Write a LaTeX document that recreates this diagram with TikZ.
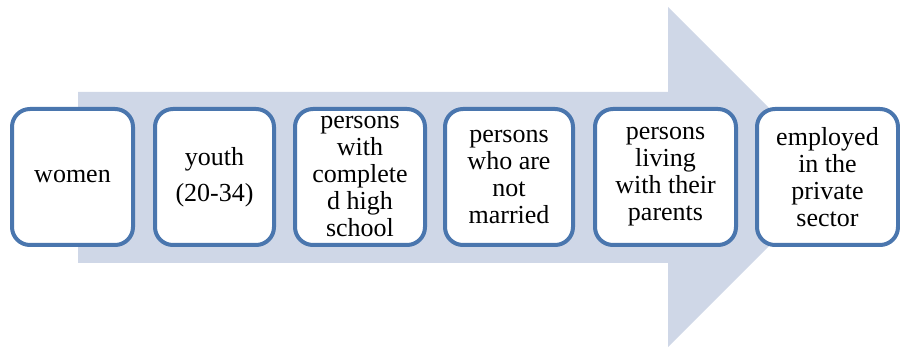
\documentclass[tikz,border=0pt]{standalone}
\usepackage{fontspec}
\setmainfont{Liberation Serif}
\definecolor{boxblue}{HTML}{4A76AE}
\definecolor{arrowgray}{HTML}{CFD7E7}
\tikzset{stage/.style={draw=boxblue, line width=4pt, rounded corners=18pt, fill=white,
    minimum height=136pt, inner sep=0pt, align=center,
    font=\rmfamily\fontsize{26}{27}\selectfont}}
\begin{document}
\begin{tikzpicture}[x=1pt,y=-1pt]
\def\bigarrow{(78,92) -- (668,92) -- (668,7) -- (838,177) -- (668,347) -- (668,263) -- (78,263) -- cycle}
\useasboundingbox (0,0) rectangle (900,347);

\fill[arrowgray] \bigarrow;

\node[stage, minimum width=121pt] (women) at (72.5,177) {women};
\node[stage, minimum width=119pt] (youth) at (214.5,177) {youth\\[9pt](20-34)};
\node[stage, minimum width=130pt] (school) at (360,177) {persons\\with\\complete\\d high\\school};
\node[stage, minimum width=128pt] (married) at (509,177) {persons\\who are\\not\\married};
\node[stage, minimum width=141pt] (parents) at (665.5,177) {persons\\living\\with their\\parents};
\node[stage, minimum width=141pt] (private) at (827.5,177) {employed\\in the\\private\\sector};
\end{tikzpicture}
\end{document}
